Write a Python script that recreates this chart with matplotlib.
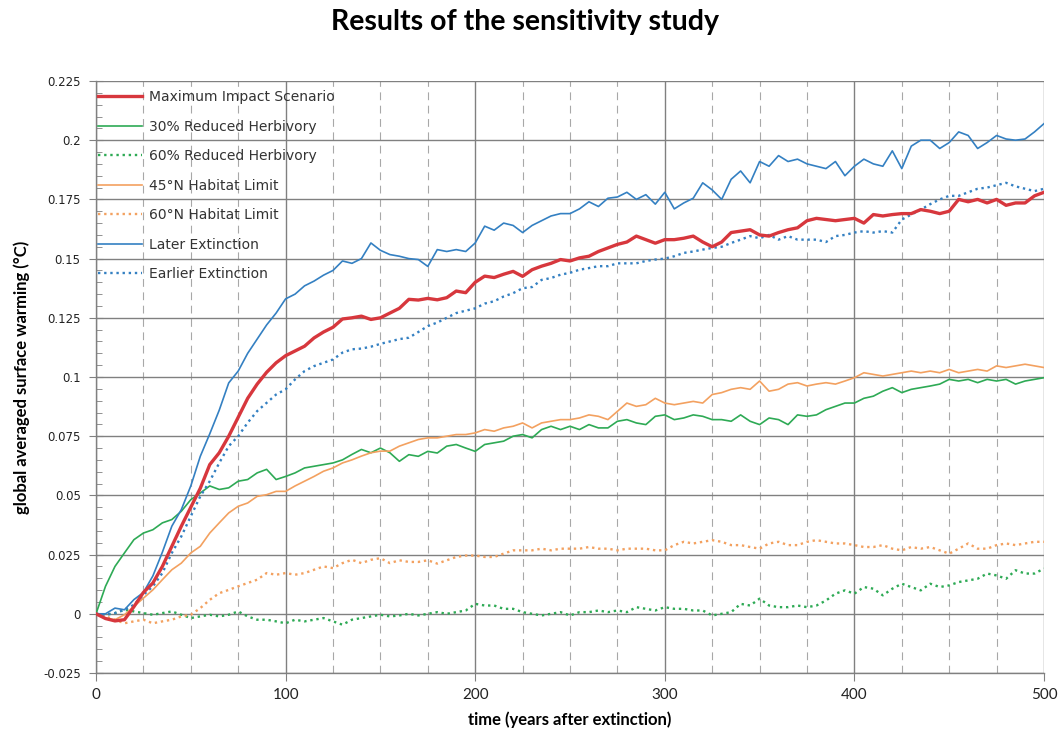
import matplotlib
matplotlib.use("Agg")
import matplotlib.pyplot as plt
from matplotlib.ticker import MultipleLocator, FixedLocator

years = list(range(0, 501, 5))

max_impact = [
    0.000, -0.002, -0.003, -0.0025, 0.003, 0.009, 0.013, 0.020, 0.0285, 0.037,
    0.045, 0.053, 0.063, 0.068, 0.075, 0.083, 0.091, 0.097, 0.102, 0.106,
    0.109, 0.111, 0.113, 0.1165, 0.119, 0.121, 0.1245, 0.125, 0.1257, 0.1243,
    0.125, 0.127, 0.129, 0.1328, 0.1325, 0.1332, 0.1326, 0.1335, 0.1363, 0.1356,
    0.140, 0.1426, 0.142, 0.1434, 0.1446, 0.1425, 0.1453, 0.1468, 0.148, 0.1496,
    0.149, 0.1503, 0.151, 0.153, 0.1545, 0.156, 0.157, 0.1595, 0.158, 0.1565,
    0.158, 0.158, 0.1586, 0.1595, 0.157, 0.155, 0.157, 0.161, 0.1616, 0.1622,
    0.160, 0.1595, 0.161, 0.1622, 0.163, 0.166, 0.167, 0.1665, 0.166, 0.1665,
    0.167, 0.165, 0.1686, 0.168, 0.1686, 0.169, 0.169, 0.1707, 0.170, 0.169,
    0.170, 0.175, 0.174, 0.175, 0.1735, 0.175, 0.1725, 0.1735, 0.1735, 0.1765,
    0.178]

reduced_herb_30 = [
    0.000, 0.0116, 0.020, 0.0257, 0.0313, 0.0341, 0.0355, 0.0384, 0.0398, 0.0433,
    0.0482, 0.051, 0.054, 0.0525, 0.0532, 0.056, 0.0567, 0.0595, 0.061, 0.0567,
    0.058, 0.0595, 0.0616, 0.0623, 0.063, 0.0637, 0.065, 0.0673, 0.0694, 0.068,
    0.070, 0.068, 0.0644, 0.0672, 0.0665, 0.0686, 0.0679, 0.0708, 0.0715, 0.070,
    0.0686, 0.0715, 0.0722, 0.0729, 0.075, 0.0757, 0.0743, 0.0778, 0.0792, 0.0778,
    0.0792, 0.0778, 0.0799, 0.0785, 0.0785, 0.0813, 0.082, 0.0806, 0.0799, 0.0834,
    0.084, 0.082, 0.0827, 0.084, 0.0834, 0.082, 0.082, 0.0813, 0.084, 0.0813,
    0.0799, 0.0827, 0.082, 0.0799, 0.084, 0.0834, 0.084, 0.0862, 0.0876, 0.089,
    0.089, 0.091, 0.0919, 0.094, 0.0955, 0.0934, 0.0948, 0.0955, 0.0962, 0.097,
    0.099, 0.0983, 0.099, 0.0976, 0.099, 0.0983, 0.099, 0.097, 0.0983, 0.099,
    0.0997]

reduced_herb_60 = [
    0.000, -0.0004, 0.0003, 0.0017, 0.001, 0.0003, -0.0004, 0.0003, 0.001, -0.0004,
    -0.0018, -0.0011, -0.0004, -0.0011, -0.0004, 0.001, -0.0011, -0.0025, -0.0025, -0.0032,
    -0.004, -0.0025, -0.0032, -0.0025, -0.0018, -0.0032, -0.0046, -0.0025, -0.0018, -0.0011,
    -0.0004, -0.0011, -0.0007, 0.000, -0.0007, 0.000, 0.0007, 0.000, 0.0007, 0.0014,
    0.0042, 0.0035, 0.0035, 0.0021, 0.0021, 0.0007, 0.000, -0.0007, 0.000, 0.0007,
    -0.0007, 0.0007, 0.0007, 0.0014, 0.0007, 0.0014, 0.0007, 0.0028, 0.0021, 0.0014,
    0.0028, 0.0021, 0.0021, 0.0014, 0.0014, -0.0007, 0.000, 0.0007, 0.0042, 0.0035,
    0.0064, 0.0035, 0.0028, 0.0028, 0.0035, 0.0028, 0.0035, 0.0056, 0.0085, 0.0099,
    0.0085, 0.0113, 0.0106, 0.0078, 0.0106, 0.0127, 0.0113, 0.0099, 0.0127, 0.0113,
    0.012, 0.0134, 0.0141, 0.0148, 0.017, 0.0162, 0.0148, 0.0184, 0.017, 0.017,
    0.0191]

habitat_45n = [
    0.000, -0.0018, -0.0025, -0.0004, 0.0031, 0.0066, 0.0101, 0.0144, 0.0186, 0.0214,
    0.0257, 0.0285, 0.0341, 0.0384, 0.0426, 0.0454, 0.0468, 0.0496, 0.0503, 0.0517,
    0.0517, 0.054, 0.056, 0.058, 0.0602, 0.0616, 0.0637, 0.065, 0.0666, 0.068,
    0.0687, 0.0687, 0.0708, 0.0722, 0.0736, 0.0743, 0.0743, 0.075, 0.0757, 0.0757,
    0.0764, 0.0778, 0.0771, 0.0785, 0.0792, 0.0806, 0.0785, 0.0806, 0.0813, 0.082,
    0.082, 0.0827, 0.084, 0.0834, 0.082, 0.0855, 0.089, 0.0876, 0.0883, 0.091,
    0.089, 0.0883, 0.089, 0.0897, 0.089, 0.0926, 0.0934, 0.0948, 0.0955, 0.0948,
    0.0983, 0.094, 0.0948, 0.097, 0.0976, 0.0962, 0.097, 0.0976, 0.097, 0.0983,
    0.0997, 0.1018, 0.1011, 0.1004, 0.1011, 0.1018, 0.1025, 0.1018, 0.1025, 0.1018,
    0.1032, 0.1018, 0.1025, 0.1032, 0.1025, 0.1047, 0.104, 0.1047, 0.1054, 0.1047,
    0.104]

habitat_60n = [
    0.000, -0.0011, -0.0025, -0.004, -0.0032, -0.0025, -0.004, -0.0032, -0.0025, -0.0011,
    -0.0004, 0.0024, 0.0059, 0.0087, 0.0101, 0.0116, 0.013, 0.0144, 0.0172, 0.0165,
    0.0172, 0.0165, 0.0172, 0.0186, 0.020, 0.0193, 0.0214, 0.0228, 0.0214, 0.0228,
    0.0235, 0.0214, 0.0226, 0.0219, 0.0219, 0.0226, 0.0212, 0.0226, 0.024, 0.0246,
    0.0246, 0.024, 0.024, 0.0254, 0.0268, 0.0268, 0.0268, 0.0275, 0.0268, 0.0275,
    0.0275, 0.0275, 0.0282, 0.0275, 0.0275, 0.0268, 0.0275, 0.0275, 0.0275, 0.0268,
    0.0268, 0.029, 0.0304, 0.0297, 0.0304, 0.0311, 0.0304, 0.029, 0.029, 0.0282,
    0.0275, 0.0297, 0.0304, 0.029, 0.029, 0.0304, 0.0311, 0.0304, 0.0297, 0.0297,
    0.029, 0.0282, 0.0282, 0.029, 0.0275, 0.0268, 0.0282, 0.0275, 0.0282, 0.0268,
    0.0254, 0.0275, 0.0297, 0.0275, 0.0275, 0.029, 0.0297, 0.029, 0.0297, 0.0304,
    0.0304]

later_extinction = [
    0.000, 0.000, 0.0024, 0.0017, 0.006, 0.009, 0.016, 0.026, 0.037, 0.044,
    0.054, 0.0665, 0.076, 0.086, 0.0975, 0.1025, 0.110, 0.116, 0.122, 0.127,
    0.133, 0.135, 0.1385, 0.1405, 0.143, 0.145, 0.149, 0.148, 0.150, 0.1566,
    0.1535, 0.1517, 0.151, 0.150, 0.1496, 0.1467, 0.1538, 0.153, 0.1538, 0.153,
    0.1566, 0.1637, 0.162, 0.165, 0.164, 0.161, 0.164, 0.166, 0.168, 0.169,
    0.169, 0.171, 0.174, 0.172, 0.1755, 0.176, 0.178, 0.175, 0.177, 0.173,
    0.178, 0.171, 0.1735, 0.1755, 0.182, 0.179, 0.175, 0.1835, 0.187, 0.182,
    0.191, 0.189, 0.1935, 0.191, 0.192, 0.190, 0.189, 0.188, 0.191, 0.185,
    0.189, 0.192, 0.190, 0.189, 0.1955, 0.188, 0.1975, 0.200, 0.200, 0.1965,
    0.199, 0.2035, 0.202, 0.1965, 0.199, 0.202, 0.2005, 0.200, 0.2005, 0.2035,
    0.207]

earlier_extinction = [
    0.000, -0.0004, 0.0003, 0.0017, 0.0038, 0.008, 0.0116, 0.0172, 0.0257, 0.0327,
    0.0412, 0.0496, 0.056, 0.0637, 0.0708, 0.075, 0.0807, 0.0856, 0.0891, 0.0926,
    0.0948, 0.099, 0.1025, 0.1046, 0.106, 0.1074, 0.1103, 0.1117, 0.112, 0.1128,
    0.114, 0.115, 0.116, 0.1166, 0.119, 0.1215, 0.123, 0.125, 0.127, 0.128,
    0.129, 0.131, 0.132, 0.134, 0.1354, 0.1375, 0.138, 0.141, 0.1418, 0.1432,
    0.144, 0.1453, 0.146, 0.1468, 0.1468, 0.148, 0.148, 0.148, 0.149, 0.1496,
    0.150, 0.151, 0.1524, 0.153, 0.1538, 0.1545, 0.155, 0.1566, 0.158, 0.1595,
    0.1586, 0.160, 0.158, 0.1595, 0.158, 0.158, 0.158, 0.157, 0.1595, 0.160,
    0.161, 0.1616, 0.161, 0.1616, 0.161, 0.1665, 0.1686, 0.1707, 0.173, 0.175,
    0.1765, 0.1765, 0.178, 0.1795, 0.180, 0.181, 0.182, 0.1805, 0.1795, 0.1785,
    0.1795]

labels = ["Maximum Impact Scenario", "30% Reduced Herbivory", "60% Reduced Herbivory",
          "45°N Habitat Limit", "60°N Habitat Limit", "Later Extinction", "Earlier Extinction"]

title = "Results of the sensitivity study"
xlabel = "time (years after extinction)"
ylabel = "global averaged surface warming (°C)"

RED = "#d7373d"
GREEN = "#2eaa55"
ORANGE = "#f3a160"
BLUE = "#3480c2"
DOT = (0, (1, 1.6))

fig = plt.figure(figsize=(10.63, 7.31), dpi=100)
ax = fig.add_axes([96 / 1063, 1 - 673 / 731, (1044 - 96) / 1063, (673 - 81) / 731])

series = [
    (max_impact, RED, "-", 2.4, 5),
    (reduced_herb_30, GREEN, "-", 1.2, 3),
    (reduced_herb_60, GREEN, DOT, 1.7, 3),
    (habitat_45n, ORANGE, "-", 1.2, 3),
    (habitat_60n, ORANGE, DOT, 1.7, 3),
    (later_extinction, BLUE, "-", 1.2, 3),
    (earlier_extinction, BLUE, DOT, 1.7, 4),
]
for (vals, col, ls, lw, z), lab in zip(series, labels):
    ax.plot(years, vals, color=col, linestyle=ls, linewidth=lw, label=lab, zorder=z)

ax.set_xlim(0, 500)
ax.set_ylim(-0.025, 0.225)
ax.xaxis.set_major_locator(MultipleLocator(100))
ax.xaxis.set_minor_locator(FixedLocator([v for v in range(25, 500, 25) if v % 100 != 0]))
ax.yaxis.set_major_locator(MultipleLocator(0.025))
ax.yaxis.set_minor_locator(MultipleLocator(0.005))

ax.grid(which="major", color="#808080", linewidth=1.0, linestyle="-", zorder=1)
ax.grid(which="minor", axis="x", color="#a8a8a8", linewidth=0.8, linestyle=(0, (7, 5)), zorder=1)
ax.set_axisbelow(True)

for s in ["top", "right"]:
    ax.spines[s].set_visible(False)
for s in ["left", "bottom"]:
    ax.spines[s].set_color("#808080")
    ax.spines[s].set_linewidth(1.0)

ax.tick_params(axis="y", which="major", direction="inout", length=10, color="#808080",
               labelsize=8.5, pad=6)
ax.tick_params(axis="y", which="minor", direction="in", length=4, color="#808080")
ax.tick_params(axis="x", which="major", direction="out", length=6, color="#808080",
               labelsize=11, pad=5)
ax.tick_params(axis="x", which="minor", length=0)

def yfmt(v, pos):
    s = f"{v:.3f}".rstrip("0").rstrip(".")
    if s == "-0":
        s = "0"
    return s

ax.yaxis.set_major_formatter(plt.FuncFormatter(yfmt))
for t in ax.get_yticklabels():
    t.set_family("DejaVu Sans")
    t.set_color("#222222")
for t in ax.get_xticklabels():
    t.set_family("Lato")
    t.set_color("#222222")

ax.set_xlabel(xlabel, fontfamily="Lato", fontweight="bold", fontsize=12)
ax.xaxis.set_label_coords(0.5, -38 / 592)
ax.set_ylabel(ylabel, fontfamily="Lato", fontweight="bold", fontsize=12)
ax.yaxis.set_label_coords(-66 / 948, 0.5)

fig.suptitle(title, fontfamily="Lato", fontweight="bold", fontsize=20.5, x=525 / 1063, y=1 - 22 / 731,
             va="center")

leg = ax.legend(loc="upper left", bbox_to_anchor=(-0.003, 0.993), frameon=False, borderaxespad=0,
                borderpad=0.35, handlelength=3.2, handletextpad=0.45, labelspacing=1.12,
                prop={"family": "DejaVu Sans", "size": 10})
for t in leg.get_texts():
    t.set_color("#333333")

fig.savefig("out.png", dpi=100, facecolor="white")
